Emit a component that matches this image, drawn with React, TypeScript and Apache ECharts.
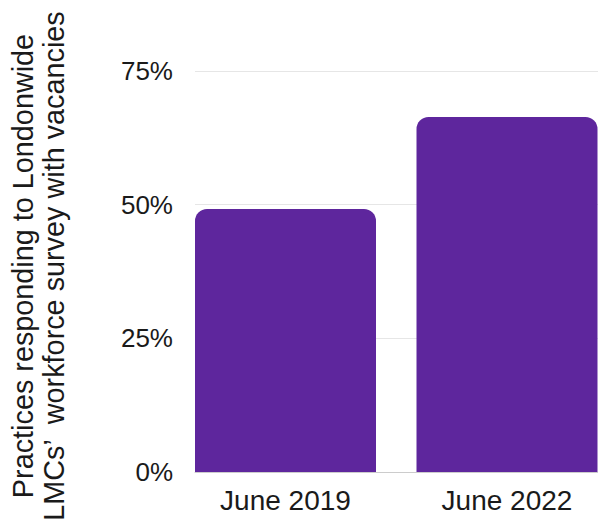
import React, { useEffect, useRef } from "react";
import * as echarts from "echarts";

const categories = ["June 2019", "June 2022"];
const values = [49.2, 66.4];
const yTicks = [0, 25, 50, 75];
const titleLines = ["Practices responding to Londonwide", "LMCs’  workforce survey with vacancies"];

export default function App() {
  const ref = useRef<HTMLDivElement>(null);
  useEffect(() => {
    if (!ref.current) return;
    const chart = echarts.init(ref.current, null, { renderer: "svg" });
    const font = "'Liberation Sans', Arial, Helvetica, sans-serif";
    chart.setOption({
      animation: false,
      textStyle: { fontFamily: font },
      grid: [
        { left: 195, right: 0, top: 71, bottom: 56, outerBoundsMode: "none" },
        { left: 174.75, width: 443, top: 71, bottom: 56, outerBoundsMode: "none", containLabel: false },
      ],
      xAxis: [
        {
          type: "category",
          gridIndex: 0,
          data: categories,
          axisLine: { show: true, lineStyle: { color: "#cccccc", width: 1 } },
          axisTick: { show: false },
          axisLabel: { show: false },
        },
        {
          type: "category",
          gridIndex: 1,
          data: categories,
          axisLine: { show: false },
          axisTick: { show: false },
          axisLabel: { fontSize: 28, color: "#1a1a1a", margin: 14, fontFamily: font },
        },
      ],
      yAxis: [
        {
          type: "value",
          gridIndex: 0,
          min: yTicks[0],
          max: yTicks[yTicks.length - 1],
          interval: 25,
          axisLine: { show: false },
          axisTick: { show: false },
          splitLine: { show: true, lineStyle: { color: "#e6e6e6", width: 1 } },
          axisLabel: { formatter: "{value}%", fontSize: 26, color: "#1a1a1a", margin: 22, fontFamily: font },
        },
        {
          type: "value",
          gridIndex: 1,
          min: yTicks[0],
          max: yTicks[yTicks.length - 1],
          show: false,
        },
      ],
      series: [
        {
          type: "bar",
          xAxisIndex: 1,
          yAxisIndex: 1,
          data: values,
          barWidth: 181,
          itemStyle: { color: "#5E269D", borderRadius: [12, 12, 0, 0] },
        },
      ],
      graphic: [
        {
          type: "text",
          x: 38,
          y: 266,
          rotation: Math.PI / 2,
          style: {
            text: titleLines.join("\n"),
            fontSize: 28.8,
            lineHeight: 31,
            fontFamily: font,
            fill: "#1a1a1a",
            textAlign: "center",
            textVerticalAlign: "middle",
          },
        },
      ],
    });
    return () => chart.dispose();
  }, []);
  return (
    <div
      ref={ref}
      style={{ position: "absolute", left: 0, top: 0, width: 598, height: 528, background: "#fff" }}
    />
  );
}
